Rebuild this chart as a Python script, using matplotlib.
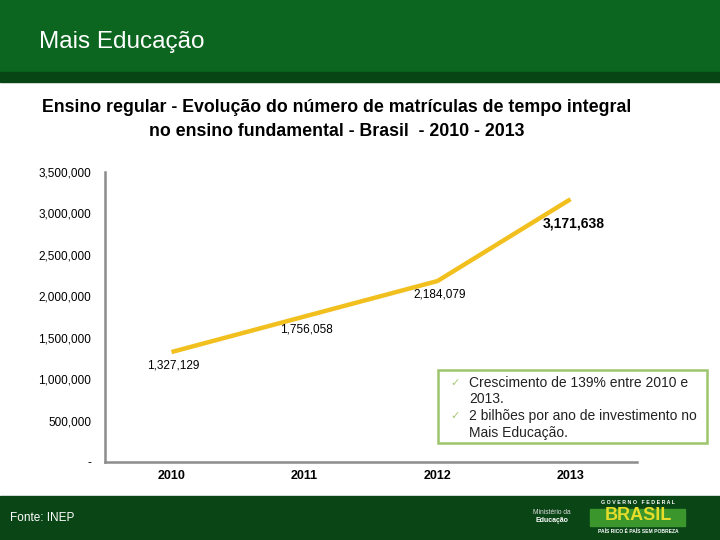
import matplotlib
matplotlib.use("Agg")
import matplotlib.pyplot as plt
from matplotlib.patches import Rectangle
from matplotlib.ticker import FuncFormatter

plt.rcParams['font.family'] = ['Liberation Sans', 'DejaVu Sans']

anos = ["2010", "2011", "2012", "2013"]
matriculas = [1327129, 1756058, 2184079, 3171638]
y_ticks = [0, 500000, 1000000, 1500000, 2000000, 2500000, 3000000, 3500000]

fig = plt.figure(figsize=(7.2, 5.4), dpi=100)

# header / footer bands
fig.add_artist(Rectangle((0, 0.8667), 1, 0.1333, transform=fig.transFigure, color="#0c661f", zorder=0))
fig.add_artist(Rectangle((0, 0.848), 1, 0.0187, transform=fig.transFigure, color="#074515", zorder=0))
fig.add_artist(Rectangle((0, 0), 1, 0.0815, transform=fig.transFigure, color="#0a4516", zorder=0))
fig.text(39/720, 1 - 42/540, "Mais Educação", color="white", fontsize=17.5, va="center", ha="left")
fig.text(10/720, 1 - 518/540, "Fonte: INEP", color="white", fontsize=8.5, va="center", ha="left")

# logos (aproximação)
fig.text(552/720, 1 - 513/540, "Ministério da", color="#dddddd", fontsize=4.8, ha="center", va="center")
fig.text(552/720, 1 - 521/540, "Educação", color="white", fontsize=5, fontweight="bold", ha="center", va="center")
fig.add_artist(Rectangle((590/720, 1 - 526/540), 95/720, 17/540, transform=fig.transFigure,
                         color="#3b962c", zorder=1))
fig.text(638/720, 1 - 502/540, "G O V E R N O   F E D E R A L", color="white", fontsize=3.8,
         ha="center", va="center", fontweight="bold")
fig.text(638/720, 1 - 515/540, "BRASIL", color="#e6dc2a", fontsize=13, fontweight="bold",
         ha="center", va="center", zorder=2)
fig.text(638/720, 1 - 531/540, "PAÍS RICO É PAÍS SEM POBREZA", color="white", fontsize=3.6,
         ha="center", va="center", fontweight="bold", zorder=2)

# title
fig.text(337/720, 1 - 108/540, "Ensino regular - Evolução do número de matrículas de tempo integral",
         fontsize=12.8, fontweight="bold", ha="center", va="center")
fig.text(337/720, 1 - 131/540, "no ensino fundamental - Brasil  - 2010 - 2013",
         fontsize=12.8, fontweight="bold", ha="center", va="center")

ax = fig.add_axes([105/720, 1 - 462/540, 532/720, 290/540])
x = list(range(len(anos)))
ax.plot(x, matriculas, color="#f2c01e", linewidth=3.2, solid_capstyle="butt")

ax.set_xlim(-0.5, 3.5)
ax.set_ylim(0, 3500000)
ax.set_yticks(y_ticks)
ax.yaxis.set_major_formatter(FuncFormatter(lambda v, p: "-" if v == 0 else f"{int(v):,}"))
ax.set_xticks(x)
ax.set_xticklabels(anos, fontweight="bold", fontsize=9)
ax.tick_params(axis="both", length=0)
ax.tick_params(axis="y", labelsize=8.5, pad=10)
ax.tick_params(axis="x", pad=6)
for s in ["top", "right"]:
    ax.spines[s].set_visible(False)
for s in ["left", "bottom"]:
    ax.spines[s].set_color("#8c8c8c")
    ax.spines[s].set_linewidth(1.8)

# data labels
for i, v in enumerate(matriculas):
    if i == len(matriculas) - 1:
        ax.annotate(f"{v:,}", (i, v), xytext=(3, -24), textcoords="offset pixels",
                    ha="center", va="center", fontsize=10, fontweight="bold")
    else:
        ax.annotate(f"{v:,}", (i, v), xytext=(2, -13), textcoords="offset pixels",
                    ha="center", va="center", fontsize=8.5)

# caixa de destaque
fig.add_artist(Rectangle((438/720, 1 - 443/540), 269/720, 73/540, transform=fig.transFigure,
                         facecolor="white", edgecolor="#9cc46c", linewidth=1.8, zorder=3))
linhas = [(383, "Crescimento de 139% entre 2010 e", True), (399, "2013.", False),
          (416, "2 bilhões por ano de investimento no", True), (433, "Mais Educação.", False)]
for yy, txt, chk in linhas:
    if chk:
        fig.text(450/720, 1 - yy/540, "✓", color="#a8c878", fontsize=8, ha="left", va="center",
                 family=["DejaVu Sans"], zorder=4)
    fig.text(469/720, 1 - yy/540, txt, fontsize=10, color="#222222", ha="left", va="center", zorder=4)

fig.savefig("out.png", dpi=100)
